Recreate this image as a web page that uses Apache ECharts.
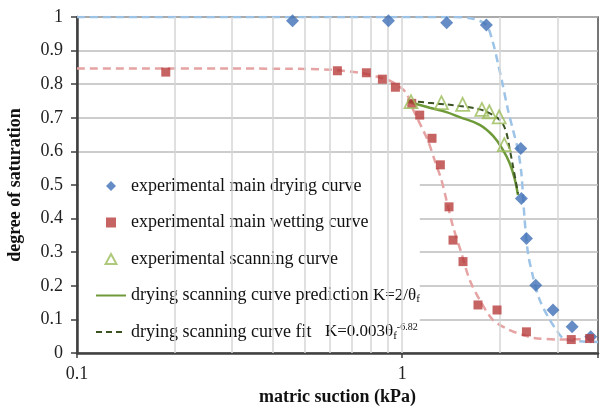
<!DOCTYPE html>
<html>
<head>
<meta charset="utf-8">
<script src="https://cdn.jsdelivr.net/npm/echarts@6/dist/echarts.min.js"></script>
<style>
  html, body { margin: 0; padding: 0; background: #fff; }
  #chart { width: 601px; height: 407px; }
</style>
</head>
<body>
<div id="chart"></div>
<script>
// measured points (matric suction kPa, degree of saturation)
const dryX = [0.46, 0.907, 1.37, 1.815, 2.315, 2.325, 2.41, 2.574, 2.909, 3.33, 3.8];
const dryY = [0.989, 0.989, 0.983, 0.976, 0.609, 0.46, 0.341, 0.202, 0.128, 0.078, 0.0485];
const wetX = [0.1875, 0.632, 0.776, 0.869, 0.953, 1.07, 1.132, 1.235, 1.31, 1.393, 1.433, 1.538, 1.71, 1.957, 2.41, 3.31, 3.77];
const wetY = [0.836, 0.84, 0.834, 0.815, 0.791, 0.743, 0.708, 0.639, 0.56, 0.435, 0.336, 0.272, 0.143, 0.128, 0.063, 0.04, 0.043];
const scanX = [1.064, 1.32, 1.534, 1.758, 1.853, 1.987, 2.06];
const scanY = [0.748, 0.745, 0.74, 0.725, 0.718, 0.703, 0.62];

// fitted main curves
const dryFitX = [0.1, 1.4, 1.65, 1.815, 1.903, 1.97, 2.033, 2.115, 2.191, 2.27, 2.325, 2.38, 2.437, 2.525, 2.647, 2.807, 2.981, 3.123, 3.393, 4];
const dryFitY = [1, 1, 0.995, 0.976, 0.922, 0.862, 0.803, 0.723, 0.664, 0.604, 0.535, 0.396, 0.297, 0.227, 0.158, 0.108, 0.068, 0.044, 0.036, 0.033];
const wetFitX = [0.1, 0.45, 0.6, 0.75, 0.87, 0.94, 0.98, 1.03, 1.08, 1.146, 1.2, 1.26, 1.32, 1.368, 1.433, 1.521, 1.613, 1.731, 1.903, 2.141, 2.352, 2.525, 3.05, 3.95];
const wetFitY = [0.847, 0.846, 0.843, 0.833, 0.818, 0.805, 0.793, 0.773, 0.725, 0.673, 0.632, 0.572, 0.515, 0.455, 0.376, 0.297, 0.217, 0.158, 0.098, 0.068, 0.054, 0.045, 0.04, 0.042];

// scanning curve prediction / fit
const predX = [1.042, 1.215, 1.368, 1.503, 1.731, 1.903, 2.042, 2.141, 2.218, 2.27];
const predY = [0.748, 0.73, 0.717, 0.702, 0.679, 0.646, 0.604, 0.565, 0.518, 0.47];
const fitX = [1.042, 1.2, 1.503, 1.731, 1.903, 2.018, 2.091, 2.141, 2.191, 2.27];
const fitY = [0.75, 0.745, 0.735, 0.725, 0.708, 0.688, 0.655, 0.606, 0.556, 0.475];

// vertical grid lines of the log axis
const xGridLines = [0.2, 0.3, 0.4, 0.5, 0.6, 0.7, 0.8, 0.9, 1, 2, 3];

const names = [
    'experimental main drying curve',
    'experimental main wetting curve',
    'experimental scanning curve',
    'drying scanning curve prediction',
    'drying scanning curve fit'
];

const serif = 'Liberation Serif';

function pairs(xs, ys) {
    return xs.map(function (x, i) { return [x, ys[i]]; });
}

let chart = echarts.init(document.getElementById('chart'));

const option = {
    animation: false,
    grid: {
        left: 77, right: 3, top: 17, bottom: 54,
        outerBoundsMode: 'none',
        containLabel: false,
        show: true, borderColor: '#4a4a4a', borderWidth: 1.5
    },
    legend: {
        data: [
            { name: names[0], icon: 'path://M5,0 L10,5 L5,10 L0,5 Z' },
            { name: names[1], icon: 'path://M0,0 L10,0 L10,10 L0,10 Z' },
            { name: names[2], icon: 'path://M6,0 L12,11 L0,11 Z' },
            { name: names[3], itemStyle: { opacity: 0 } },
            { name: names[4], itemStyle: { opacity: 0 } }
        ],
        orient: 'vertical',
        left: 79,
        top: 166,
        padding: [10, 0, 5, 16],
        itemGap: 16.5,
        itemWidth: 30,
        itemHeight: 10,
        symbolKeepAspect: true,
        backgroundColor: '#fff',
        textStyle: {
            fontFamily: serif, fontSize: 18, color: '#111', lineHeight: 20,
            rich: {
                k: { fontFamily: serif, fontSize: 17, color: '#111' },
                sub: { fontFamily: serif, fontSize: 11, color: '#111', padding: [8, 0, 0, 0] },
                sup: { fontFamily: serif, fontSize: 10, color: '#111', padding: [0, 0, 9, 0] }
            }
        },
        formatter: function (name) {
            if (name === names[3]) return name + ' {k|K=2/θ}{sub|f}';
            if (name === names[4]) return name + '   {k|K=0.003θ}{sub|f}{sup|-6.82}';
            return name;
        }
    },
    xAxis: {
        type: 'log',
        logBase: 10,
        min: 0.1,
        max: 4,
        name: 'matric suction (kPa)',
        nameLocation: 'middle',
        nameGap: 33,
        nameTextStyle: { fontFamily: serif, fontSize: 18, fontWeight: 'bold', color: '#111' },
        axisLine: { lineStyle: { color: '#404040', width: 2.5 } },
        axisTick: { length: 5, lineStyle: { color: '#404040', width: 1.5 } },
        axisLabel: {
            fontFamily: serif, fontSize: 18, color: '#222', margin: 12,
            formatter: function (v) {
                let l = Math.log10(v);
                return Math.abs(l - Math.round(l)) < 1e-6 ? String(+v.toPrecision(3)) : '';
            }
        },
        splitLine: { show: false }
    },
    yAxis: {
        type: 'value',
        min: 0,
        max: 1,
        interval: 0.1,
        name: 'degree of saturation',
        nameLocation: 'middle',
        nameGap: 53,
        nameTextStyle: { fontFamily: serif, fontSize: 18, fontWeight: 'bold', color: '#111' },
        axisLine: { show: true, lineStyle: { color: '#404040', width: 2.5 } },
        axisTick: { show: true, length: 6, lineStyle: { color: '#404040', width: 1.5 } },
        axisLabel: { fontFamily: serif, fontSize: 18, color: '#222', margin: 14 },
        splitLine: { lineStyle: { color: '#bdbdbd', width: 1.5 } }
    },
    series: [
        {
            name: 'grid',
            type: 'line',
            z: 1,
            data: [],
            markLine: {
                silent: true,
                symbol: ['none', 'none'],
                label: { show: false },
                lineStyle: { color: '#d6d6d6', type: 'solid', width: 1.5 },
                data: xGridLines.map(function (v) { return { xAxis: v }; })
            }
        },
        {
            name: 'main drying fit',
            type: 'line',
            smooth: 0.3,
            showSymbol: false,
            symbol: 'none',
            lineStyle: { color: '#9dc3e6', width: 2.5, type: [8, 5] },
            data: pairs(dryFitX, dryFitY)
        },
        {
            name: 'main wetting fit',
            type: 'line',
            smooth: 0.3,
            showSymbol: false,
            symbol: 'none',
            lineStyle: { color: '#e6a3a3', width: 2.5, type: [8, 5] },
            data: pairs(wetFitX, wetFitY)
        },
        {
            name: names[3],
            type: 'line',
            smooth: 0.4,
            showSymbol: false,
            symbol: 'none',
            color: '#6f9a3a',
            lineStyle: { color: '#6f9a3a', width: 2.5 },
            data: pairs(predX, predY)
        },
        {
            name: names[4],
            type: 'line',
            smooth: 0.4,
            showSymbol: false,
            symbol: 'none',
            color: '#3b5323',
            lineStyle: { color: '#3b5323', width: 2, type: [6, 4] },
            data: pairs(fitX, fitY)
        },
        {
            name: names[0],
            type: 'scatter',
            symbol: 'diamond',
            symbolSize: 13,
            itemStyle: { color: '#3f6fb5' },
            z: 5,
            data: pairs(dryX, dryY)
        },
        {
            name: names[1],
            type: 'scatter',
            symbol: 'rect',
            symbolSize: 9,
            itemStyle: { color: '#b83c3c' },
            z: 5,
            data: pairs(wetX, wetY)
        },
        {
            name: names[2],
            type: 'scatter',
            symbol: 'triangle',
            symbolSize: 13,
            itemStyle: { color: 'rgba(255,255,255,0)', borderColor: '#9bbb59', borderWidth: 1.8 },
            z: 5,
            data: pairs(scanX, scanY)
        }
    ]
};

chart.setOption(option);
</script>
</body>
</html>
